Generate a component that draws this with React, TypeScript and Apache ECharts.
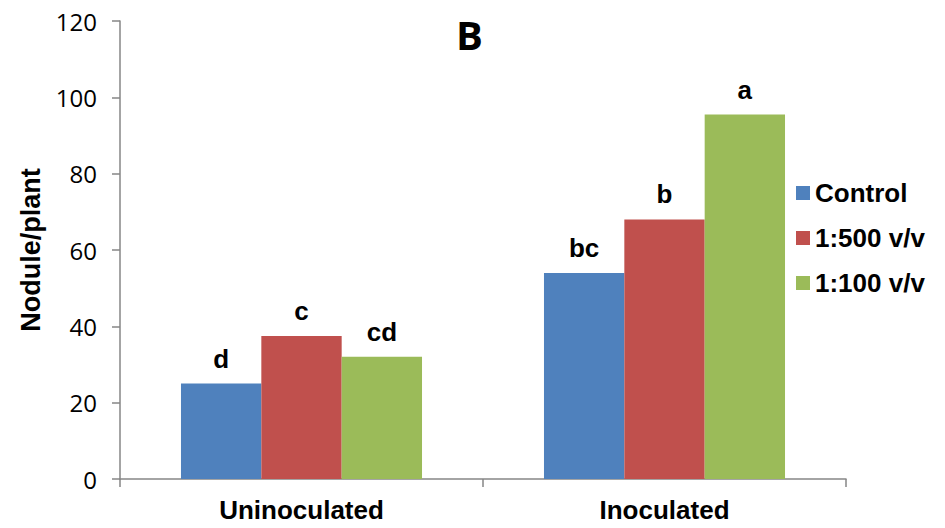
import React, { useEffect, useRef } from "react";
import * as echarts from "echarts";

const categories = ["Uninoculated", "Inoculated"];
const seriesNames = ["Control", "1:500 v/v", "1:100 v/v"];
const controlValues = [25, 54];
const ratio500Values = [37.5, 68];
const ratio100Values = [32, 95.5];
const controlLetters = ["d", "bc"];
const ratio500Letters = ["c", "b"];
const ratio100Letters = ["cd", "a"];
const yTicks = [0, 20, 40, 60, 80, 100, 120];

const colors = ["#4F81BD", "#C0504D", "#9BBB59"];

export default function App() {
  const ref = useRef<HTMLDivElement>(null);
  useEffect(() => {
    if (!ref.current) return;
    const chart = echarts.init(ref.current, undefined, { renderer: "svg" });
    const values = [controlValues, ratio500Values, ratio100Values];
    const letters = [controlLetters, ratio500Letters, ratio100Letters];
    chart.setOption({
      animation: false,
      backgroundColor: "#ffffff",
      title: {
        text: "B",
        left: 451,
        top: 9,
        textStyle: { fontFamily: "Open Sans", fontWeight: "bold", fontSize: 40, color: "#000" },
      },
      legend: {
        orient: "vertical",
        left: 791,
        top: 175,
        itemWidth: 14,
        itemHeight: 14,
        itemGap: 19,
        icon: "rect",
        data: seriesNames,
        textStyle: {
          fontFamily: "Liberation Sans",
          fontWeight: "bold",
          fontSize: 26,
          lineHeight: 26,
          color: "#000",
        },
      },
      grid: { left: 120, right: 99, top: 21, bottom: 49, containLabel: false },
      xAxis: {
        type: "category",
        data: categories,
        axisLine: { lineStyle: { color: "#868686", width: 1.5 } },
        axisTick: { show: true, length: 8, lineStyle: { color: "#868686", width: 1.5 } },
        axisLabel: {
          margin: 18,
          fontFamily: "Liberation Sans",
          fontWeight: "bold",
          fontSize: 26,
          color: "#000",
        },
      },
      yAxis: {
        type: "value",
        min: yTicks[0],
        max: yTicks[yTicks.length - 1],
        interval: 20,
        name: "Nodule/plant",
        nameLocation: "middle",
        nameGap: 76,
        nameRotate: 90,
        nameTextStyle: { fontFamily: "Liberation Sans", fontWeight: "bold", fontSize: 27, color: "#000" },
        axisLine: { show: true, lineStyle: { color: "#868686", width: 1.5 } },
        axisTick: { show: true, length: 8, inside: false, lineStyle: { color: "#868686", width: 1.5 } },
        splitLine: { show: false },
        axisLabel: {
          margin: 23,
          fontFamily: "Open Sans",
          fontSize: 24,
          color: "#000",
        },
      },
      series: seriesNames.map((name, i) => ({
        name,
        type: "bar",
        data: values[i],
        barGap: "0%",
        barCategoryGap: "33.6%",
        itemStyle: { color: colors[i] },
        label: {
          show: true,
          position: "top",
          distance: 12,
          formatter: (p: any) => letters[i][p.dataIndex],
          fontFamily: "Liberation Sans",
          fontWeight: "bold",
          fontSize: 26,
          color: "#000",
        },
      })),
    });
    return () => chart.dispose();
  }, []);
  return <div ref={ref} style={{ width: 945, height: 528, position: "absolute", left: 0, top: 0 }} />;
}
